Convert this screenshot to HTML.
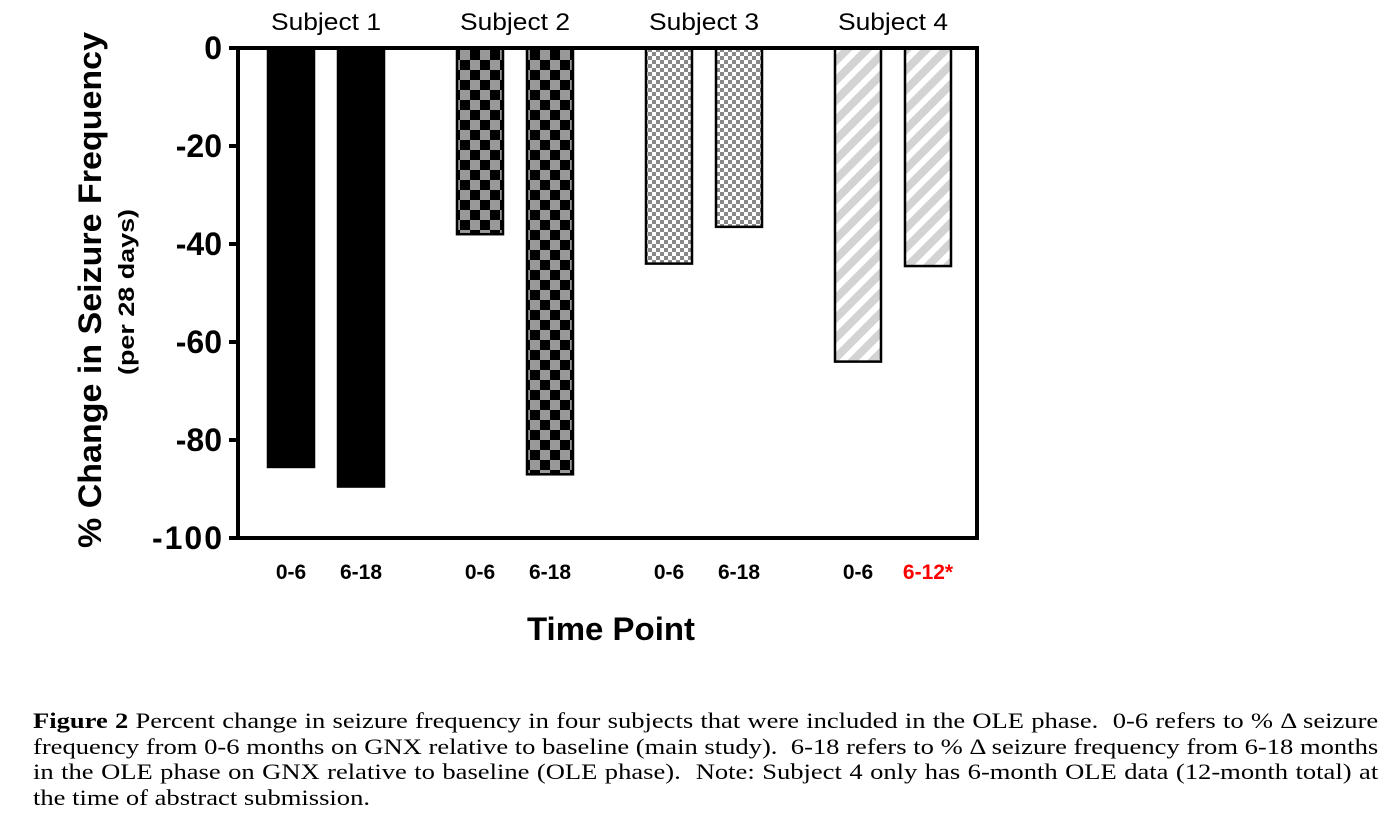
<!DOCTYPE html>
<html><head><meta charset="utf-8"><style>
body{margin:0;background:#fff;width:1391px;height:832px;overflow:hidden;position:relative;font-family:"Liberation Sans",sans-serif}
.cap{position:absolute;left:33px;top:708px;width:1140px;font-family:"Liberation Serif",serif;font-size:22.5px;line-height:25.5px;color:#000;transform:scaleX(1.18);transform-origin:0 0}
.cap div{white-space:nowrap;text-align:justify;text-align-last:justify}
.cap div.last{text-align-last:left}
</style></head><body>
<svg width="1391" height="700" style="position:absolute;left:0;top:0">
<defs>
<pattern id="p2" width="20" height="20" patternUnits="userSpaceOnUse"><rect width="20" height="20" fill="#999"/><rect width="10" height="10" fill="#000"/><rect x="10" y="10" width="10" height="10" fill="#000"/></pattern>
<pattern id="p3" width="8" height="8" patternUnits="userSpaceOnUse"><rect width="8" height="8" fill="#fff"/><rect width="4" height="4" fill="#888"/><rect x="4" y="4" width="4" height="4" fill="#888"/></pattern>
<pattern id="p4" width="14" height="14" patternUnits="userSpaceOnUse" patternTransform="rotate(45)"><rect width="14" height="14" fill="#fff"/><rect width="8" height="14" fill="#d3d3d3"/></pattern>
</defs>
<g id="bars"></g>
<g id="axes"></g>
<text transform="translate(101,290) rotate(-90)" text-anchor="middle" font-size="32" font-weight="bold" textLength="516" lengthAdjust="spacingAndGlyphs">% Change in Seizure  Frequency</text>
<text transform="translate(134,292) rotate(-90)" text-anchor="middle" font-size="22" font-weight="bold" textLength="166" lengthAdjust="spacingAndGlyphs">(per 28 days)</text>
<text x="611" y="640" text-anchor="middle" font-size="32" font-weight="bold" textLength="168" lengthAdjust="spacingAndGlyphs">Time Point</text>
</svg>
<div class="cap">
<div><b>Figure 2</b> Percent change in seizure frequency in four subjects that were included in the OLE phase.&nbsp; 0-6 refers to % Δ seizure</div>
<div>frequency from 0-6 months on GNX relative to baseline (main study).&nbsp; 6-18 refers to % Δ seizure frequency from 6-18 months</div>
<div>in the OLE phase on GNX relative to baseline (OLE phase).&nbsp; Note: Subject 4 only has 6-month OLE data (12-month total) at</div>
<div class="last">the time of abstract submission.</div>
</div>
<script>
const subjects=["Subject 1","Subject 2","Subject 3","Subject 4"];
const periods=[["0-6","6-18"],["0-6","6-18"],["0-6","6-18"],["0-6","6-12*"]];
const values=[[-85.5,-89.5],[-38,-87],[-44,-36.5],[-64,-44.5]];
const yTicks=[0,-20,-40,-60,-80,-100];
const fills=["#000","url(#p2)","url(#p3)","url(#p4)"];
const NS="http://www.w3.org/2000/svg";
const y=v=>48+(-v)*4.9;
const gx=i=>326+i*189;
const bars=document.getElementById('bars'),axes=document.getElementById('axes');
function mk(tag,at,parent,txt){const e=document.createElementNS(NS,tag);for(const k in at)e.setAttribute(k,at[k]);if(txt!=null)e.textContent=txt;parent.appendChild(e);return e;}
subjects.forEach((s,i)=>{
 const t=mk('text',{x:gx(i),y:30,'text-anchor':'middle','font-size':24,textLength:110,lengthAdjust:'spacingAndGlyphs'},axes,s);
 
 
 values[i].forEach((v,j)=>{
  const cx=gx(i)+(j?35:-35);
  const r=mk('rect',{x:cx-23,y:y(0),width:46,height:y(v)-y(0),fill:fills[i],stroke:'#000','stroke-width':2.5},bars);
  
  
  const l=mk('text',{x:cx,y:579,'text-anchor':'middle','font-size':21,'font-weight':'bold',fill:(i==3&&j==1)?'#f00':'#000'},axes,periods[i][j]);
  
  
 });
});
mk('path',{d:`M238 ${y(0)} H977 V${y(-100)} H238 M238 ${y(0)-2} V${y(-100)+2}`,stroke:'#000','stroke-width':4,fill:'none'},axes);
yTicks.forEach(v=>{
 mk('line',{x1:229,x2:238,y1:y(v),y2:y(v),stroke:'#000','stroke-width':4},axes);
 const t=mk('text',{x:222,y:y(v)+11,'text-anchor':'end','font-size':32,'font-weight':'bold'},axes,v);
 if(v===-100)t.setAttribute('textLength',70);
 
 
});
</script>
</body></html>
